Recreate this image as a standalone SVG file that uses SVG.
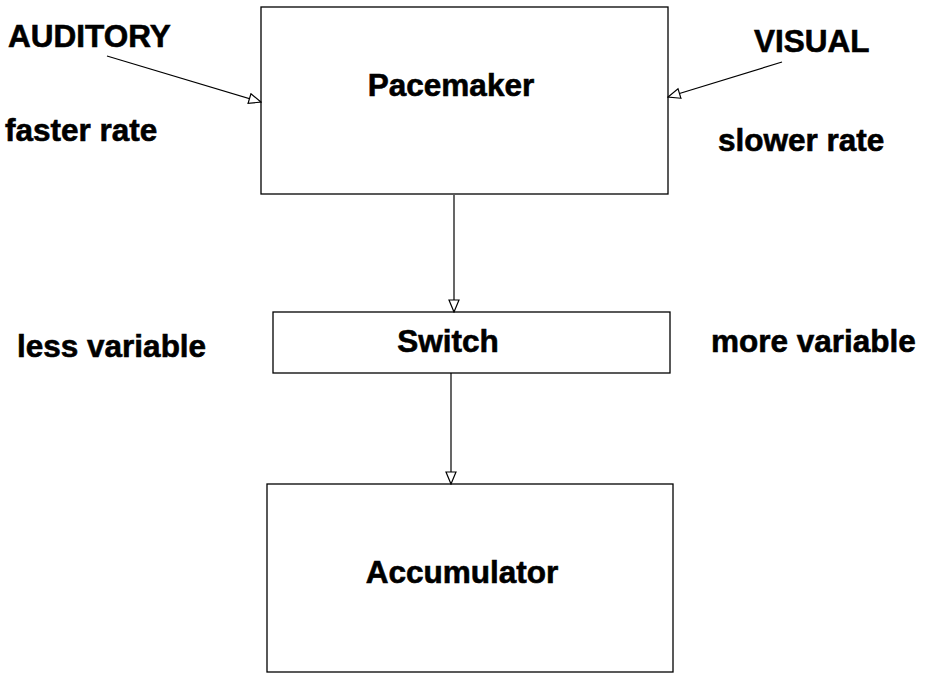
<svg xmlns="http://www.w3.org/2000/svg" width="929" height="674" viewBox="0 0 929 674">
<style>
.box{fill:#fff;stroke:#000;stroke-width:1.3}
.t{font-family:"Liberation Sans",Arial,sans-serif;font-weight:bold;font-size:31.5px;fill:#000;stroke:#000;stroke-width:0.6}
.c{stroke:#000;stroke-width:1.2;fill:none}
</style>
<defs>
<marker id="ah" viewBox="0 0 14 12" refX="13" refY="6" markerWidth="14" markerHeight="12" markerUnits="userSpaceOnUse" orient="auto">
<path d="M1,1 L13,6 L1,11 Z" fill="#fff" stroke="#000" stroke-width="1.2"/>
</marker>
</defs>
<rect width="929" height="674" fill="#fff"/>
<g id="pacemaker">
<rect class="box" x="261" y="7" width="407" height="187"/>
<text class="t" x="451" y="96" text-anchor="middle">Pacemaker</text>
</g>
<g id="switch">
<rect class="box" x="273" y="312" width="397" height="61"/>
<text class="t" x="448" y="352" text-anchor="middle">Switch</text>
</g>
<g id="accumulator">
<rect class="box" x="267" y="484" width="406" height="188"/>
<text class="t" x="462" y="583" text-anchor="middle">Accumulator</text>
</g>
<g id="labels">
<text class="t" x="8" y="47">AUDITORY</text>
<text class="t" x="5" y="141">faster rate</text>
<text class="t" x="754" y="52">VISUAL</text>
<text class="t" x="718" y="151">slower rate</text>
<text class="t" x="17" y="357">less variable</text>
<text class="t" x="711" y="352">more variable</text>
</g>
<g id="connectors">
<line class="c" x1="107" y1="56" x2="261" y2="102" marker-end="url(#ah)"/>
<line class="c" x1="782" y1="62" x2="668" y2="97" marker-end="url(#ah)"/>
<line class="c" x1="454" y1="195" x2="454" y2="312" marker-end="url(#ah)"/>
<line class="c" x1="451" y1="373" x2="451" y2="484" marker-end="url(#ah)"/>
</g>
</svg>
